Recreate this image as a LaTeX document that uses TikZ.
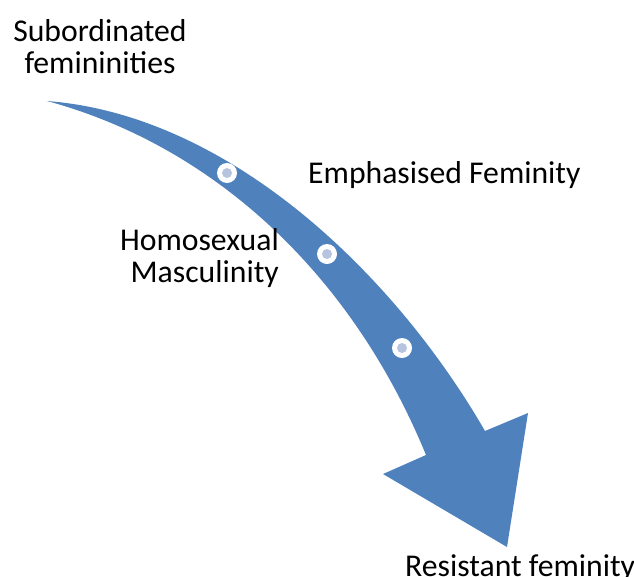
\documentclass[tikz,border=0pt]{standalone}
\usepackage{fontspec}
\setmainfont{Carlito}
\usetikzlibrary{positioning}
\definecolor{arrowblue}{HTML}{4F81BD}
\definecolor{pipblue}{HTML}{B7C4DF}
\begin{document}
\begin{tikzpicture}[
        x=1pt, y=-1pt,
        txt/.style={font=\fontsize{31.7}{32}\selectfont, inner sep=0pt},
        ring/.style={circle, fill=white, inner sep=0pt, minimum size=20pt},
        pip/.style={circle, fill=pipblue, inner sep=0pt, minimum size=10pt},
    ]
    \useasboundingbox (0,0) rectangle (634,576);
    % CURVED ARROW
    \fill[arrowblue] (47,101) .. controls (230,115) and (395,275) .. (485,431)
        -- (528,413) -- (507,547) -- (383,474) -- (426,455)
        .. controls (350,270) and (210,145) .. (47,101) -- cycle;
    % STAGES ON THE ARROW
    \foreach \n/\p in {1/{227,173}, 2/{327,254}, 3/{402,348}} {
        \node[ring] (r\n) at (\p) {};
        \node[pip] (p\n) at (r\n) {};
    }
    % LABELS
    \node[txt, align=center, anchor=north] (sub) at (100,19) {Subordinated\\femininities};
    \node[txt, anchor=base west] (emph) at (308,183) {Emphasised Feminity};
    \node[txt, align=right, anchor=north east] (homo) at (279,228) {Homosexual\\Masculinity};
    \node[txt, anchor=base west] (res) at (405,576.5) {Resistant feminity};
\end{tikzpicture}
\end{document}
